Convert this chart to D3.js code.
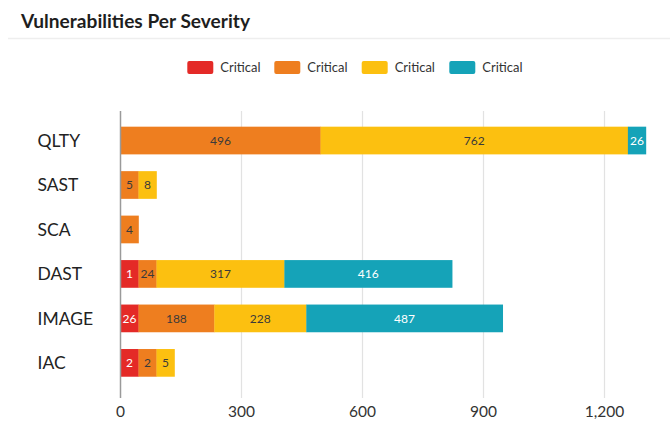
<!DOCTYPE html>
<html>
<head>
<meta charset="utf-8">
<script src="https://cdn.jsdelivr.net/npm/d3@7"></script>
<style>
  html, body { margin: 0; padding: 0; background: #fff; }
  svg { display: block; font-family: Lato, "Open Sans", sans-serif; }
</style>
</head>
<body>
<svg id="chart" width="670" height="431"></svg>
<script>
const title = "Vulnerabilities Per Severity";
const categories = ["QLTY", "SAST", "SCA", "DAST", "IMAGE", "IAC"];
const seriesNames = ["Critical", "Critical", "Critical", "Critical"];
const seriesColors = ["#E42A27", "#EE7E1F", "#FCC010", "#15A3B8"];
const labelColors = ["#ffffff", "#3a3a3a", "#3a3a3a", "#ffffff"];
const redValues = [0, 0, 0, 1, 26, 2];
const orangeValues = [496, 5, 4, 24, 188, 2];
const yellowValues = [762, 8, 0, 317, 228, 5];
const tealValues = [26, 0, 0, 416, 487, 0];
const tickValues = [0, 300, 600, 900, 1200];

const seriesValues = [redValues, orangeValues, yellowValues, tealValues];

const svg = d3.select("#chart");

// Title and separator
svg.append("text")
  .attr("x", 21).attr("y", 28.3)
  .attr("font-size", 18.5).attr("font-weight", 700)
  .attr("fill", "#1e1e1e")
  .attr("textLength", 229).attr("lengthAdjust", "spacingAndGlyphs")
  .text(title);
svg.append("line")
  .attr("x1", 8).attr("x2", 670).attr("y1", 38.5).attr("y2", 38.5)
  .attr("stroke", "#eeeeee").attr("stroke-width", 1.5);

// Legend
const legendX = [187.3, 274.3, 361.7, 449.3];
const legend = svg.append("g");
seriesNames.forEach((name, i) => {
  const g = legend.append("g").attr("transform", `translate(${legendX[i]},61)`);
  g.append("rect").attr("width", 26).attr("height", 13).attr("rx", 2)
    .attr("fill", seriesColors[i]);
  g.append("text").attr("x", 33).attr("y", 11).attr("font-size", 13)
    .attr("fill", "#333").text(name);
});

// Scales
const x = d3.scaleLinear().domain([0, 1200]).range([120.5, 604.5]);
const y = d3.scaleBand().domain(categories).range([112, 391.4])
  .paddingInner(0.377).paddingOuter(0.33);

const plotTop = 111, plotBottom = 398;

// Gridlines
svg.append("g").selectAll("line")
  .data(tickValues.filter(t => t > 0))
  .join("line")
  .attr("x1", d => x(d)).attr("x2", d => x(d))
  .attr("y1", plotTop).attr("y2", plotBottom)
  .attr("stroke", "#e2e2e2").attr("stroke-width", 1.2);

// Bars (small segments get a minimum visible width)
const minW = 18;
const segs = [];
categories.forEach((c, ci) => {
  let pos = x(0);
  seriesValues.forEach((vals, si) => {
    const v = vals[ci];
    if (v > 0) {
      const w = Math.max(x(v) - x(0), minW);
      segs.push({ c, si, v, x0: pos, w });
      pos += w;
    }
  });
});

const barG = svg.append("g");
barG.selectAll("rect").data(segs).join("rect")
  .attr("x", d => d.x0).attr("width", d => d.w + 0.3)
  .attr("y", d => y(d.c)).attr("height", y.bandwidth())
  .attr("fill", d => seriesColors[d.si]);
barG.selectAll("text").data(segs).join("text")
  .attr("x", d => d.x0 + d.w / 2)
  .attr("y", d => y(d.c) + y.bandwidth() / 2 + 4.3)
  .attr("text-anchor", "middle").attr("font-size", 12)
  .attr("fill", d => labelColors[d.si])
  .text(d => d3.format(",")(d.v));

// Y axis line
svg.append("line")
  .attr("x1", x(0)).attr("x2", x(0)).attr("y1", plotTop).attr("y2", plotBottom)
  .attr("stroke", "#9a9a9a").attr("stroke-width", 1.5);

// Category labels
svg.append("g").selectAll("text").data(categories).join("text")
  .attr("x", 37.5).attr("y", d => y(d) + y.bandwidth() / 2 + 6.3)
  .attr("font-size", 17.5).attr("fill", "#222").text(d => d);

// X tick labels
svg.append("g").selectAll("text").data(tickValues).join("text")
  .attr("x", d => x(d)).attr("y", 417.3)
  .attr("text-anchor", "middle").attr("font-size", 15.5).attr("fill", "#333")
  .text(d => d3.format(",")(d));
</script>
</body>
</html>
